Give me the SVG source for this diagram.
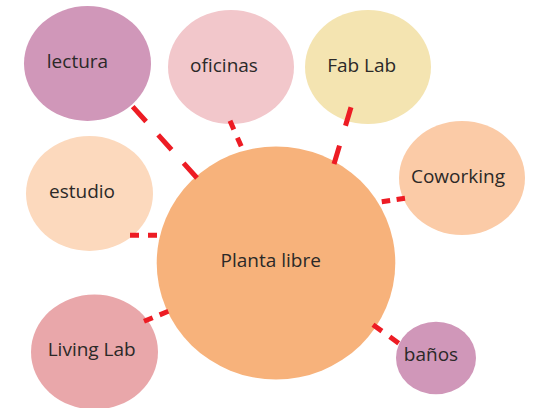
<svg xmlns="http://www.w3.org/2000/svg" width="534" height="408" viewBox="0 0 534 408">
  <style>
    .lbl { font-family: "Open Sans", "Noto Sans", "Liberation Sans", sans-serif; font-size: 19px; fill: #2b2928; text-anchor: middle; }
    .con { stroke: #ed1c24; stroke-width: 5; fill: none; stroke-linecap: butt; }
  </style>
  <rect width="534" height="408" fill="#ffffff"/>
  <g id="lectura">
    <ellipse cx="87.5" cy="63.5" rx="63.5" ry="57.5" fill="#d097b9"/>
    <text class="lbl" x="77.5" y="68">lectura</text>
  </g>
  <g id="oficinas">
    <ellipse cx="231" cy="67" rx="63" ry="57" fill="#f2c7cb"/>
    <text class="lbl" x="224" y="71.7">oficinas</text>
  </g>
  <g id="fablab">
    <ellipse cx="368" cy="67" rx="63" ry="57" fill="#f4e4b1"/>
    <text class="lbl" x="361.7" y="71.7">Fab Lab</text>
  </g>
  <g id="coworking">
    <ellipse cx="462" cy="178" rx="63" ry="57" fill="#fbcba7"/>
    <text class="lbl" x="458" y="182.7">Coworking</text>
  </g>
  <g id="estudio">
    <ellipse cx="89.5" cy="193.5" rx="63.5" ry="57.5" fill="#fcd9bd"/>
    <text class="lbl" x="82" y="198">estudio</text>
  </g>
  <g id="livinglab">
    <ellipse cx="94.5" cy="352" rx="63.5" ry="57.5" fill="#e9a7aa"/>
    <text class="lbl" x="91.7" y="355.7">Living Lab</text>
  </g>
  <g id="planta">
    <ellipse cx="276" cy="263" rx="119.3" ry="116.5" fill="#f7b27b"/>
    <text class="lbl" x="270.7" y="266.7">Planta libre</text>
  </g>
  <g id="banos">
    <ellipse cx="436" cy="358" rx="40" ry="36.3" fill="#d097b9"/>
    <text class="lbl" x="431" y="360.7">baños</text>
  </g>
  <g id="connectors">
    <line class="con" x1="132.7" y1="106.7" x2="197.3" y2="178.3" stroke-dasharray="20 18"/>
    <line class="con" x1="230" y1="120.7" x2="241.5" y2="147" stroke-dasharray="9.5 9"/>
    <line class="con" x1="351" y1="107.3" x2="334" y2="164" stroke-dasharray="19.2 20.8"/>
    <line class="con" x1="405" y1="198.3" x2="381.7" y2="201.7" stroke-dasharray="8.5 6.5"/>
    <line class="con" x1="130" y1="235.3" x2="157.3" y2="235.3" stroke-dasharray="9 9"/>
    <line class="con" x1="144" y1="321.3" x2="168.3" y2="311.3" stroke-dasharray="9.4 7.5"/>
    <line class="con" x1="373" y1="324.7" x2="398.7" y2="343.3" stroke-dasharray="11 9.7"/>
  </g>
</svg>
